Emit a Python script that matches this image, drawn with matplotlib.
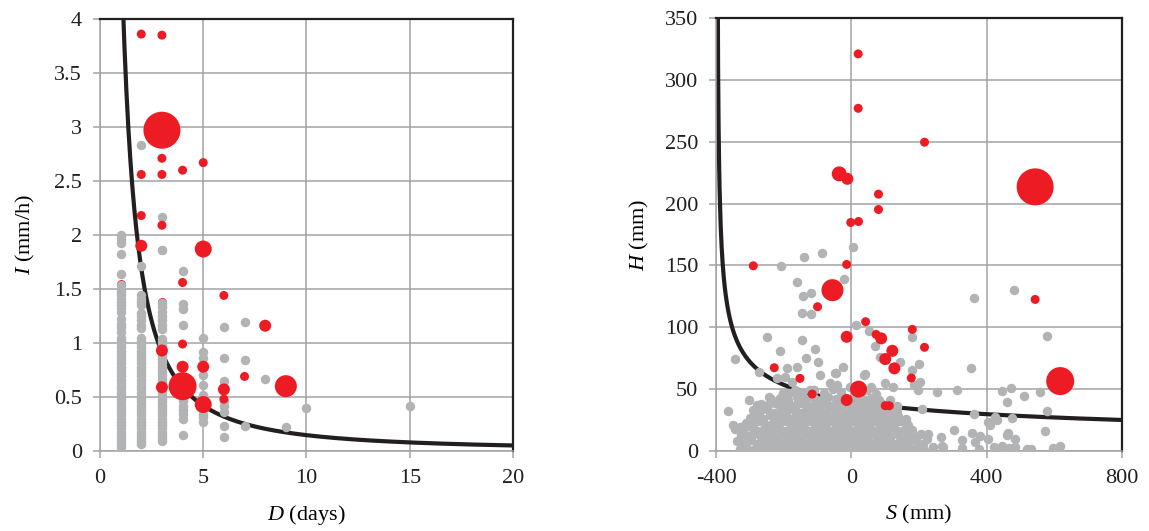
import matplotlib
matplotlib.use("Agg")
import numpy as np
import matplotlib.pyplot as plt
from matplotlib.ticker import FuncFormatter

plt.rcParams["font.family"] = ["Liberation Serif", "DejaVu Serif"]
plt.rcParams["mathtext.fontset"] = "custom"
plt.rcParams["mathtext.it"] = "Liberation Serif:italic"
plt.rcParams["mathtext.rm"] = "Liberation Serif"
plt.rcParams["axes.unicode_minus"] = False

# ---------------- left panel: duration D (days) vs intensity I (mm/h) ----------------
# gray events, grouped by duration
left_gray = {
    1: [2.00, 1.96, 1.93, 1.82, 1.64, 1.54, 1.50, 1.47, 1.44, 1.41, 1.38, 1.35, 1.32,
        1.29, 1.22, 1.18, 1.15, 1.10, 1.05, 1.02, 0.99, 0.96, 0.93, 0.90, 0.87, 0.84,
        0.81, 0.78, 0.75, 0.72, 0.69, 0.66, 0.63, 0.60, 0.57, 0.54, 0.51, 0.48, 0.45,
        0.42, 0.39, 0.36, 0.33, 0.30, 0.27, 0.24, 0.21, 0.18, 0.15, 0.12, 0.09, 0.06,
        0.04],
    2: [2.83, 1.71, 1.44, 1.41, 1.38, 1.35, 1.28, 1.25, 1.21, 1.17, 1.14, 1.05, 1.02,
        0.99, 0.96, 0.93, 0.90, 0.87, 0.84, 0.81, 0.78, 0.75, 0.72, 0.69, 0.66, 0.63,
        0.60, 0.57, 0.54, 0.51, 0.48, 0.45, 0.42, 0.39, 0.36, 0.33, 0.30, 0.27, 0.24,
        0.21, 0.18, 0.15, 0.12, 0.09, 0.06],
    3: [2.17, 1.86, 1.37, 1.33, 1.29, 1.25, 1.21, 1.17, 1.13, 1.04, 1.01, 0.98, 0.95,
        0.91, 0.88, 0.85, 0.82, 0.79, 0.76, 0.73, 0.70, 0.67, 0.64, 0.61, 0.57, 0.54,
        0.51, 0.48, 0.45, 0.42, 0.39, 0.36, 0.33, 0.30, 0.27, 0.24, 0.21, 0.18, 0.15,
        0.12, 0.09],
    4: [1.67, 1.36, 1.31, 1.17, 0.62, 0.55, 0.50, 0.46, 0.42, 0.38, 0.34, 0.30, 0.15],
    5: [1.05, 0.92, 0.86, 0.70, 0.61, 0.52, 0.48, 0.34, 0.31, 0.27],
    6: [1.15, 0.86, 0.65, 0.46, 0.42, 0.36, 0.23, 0.13],
    7: [1.19, 0.84, 0.23],
    8: [0.67],
    9: [0.22],
    10: [0.40],
    15: [0.42],
}

# red events (D, I, magnitude class 1..7)
left_red = [
    (2, 3.86, 1), (3, 3.85, 1), (3, 2.97, 7), (3, 2.71, 1), (5, 2.67, 1),
    (2, 2.56, 1), (3, 2.56, 1), (4, 2.60, 1), (2, 2.18, 1), (3, 2.09, 1),
    (2, 1.90, 2), (5, 1.87, 4), (4, 1.56, 1), (6, 1.44, 1), (8, 1.16, 2),
    (4, 0.99, 1), (3, 0.93, 2), (4, 0.78, 2), (5, 0.78, 2), (3, 0.59, 2),
    (4, 0.60, 6), (5, 0.43, 4), (6, 0.57, 2), (6, 0.48, 1), (7, 0.69, 1),
    (9, 0.60, 5),
]
# red events lying underneath gray ones
left_red_hidden = [(1, 1.55), (3, 1.86), (3, 1.38)]

# threshold curve I = a * D^-b
left_a, left_b = 4.85, 1.52

# ---------------- right panel: S (mm) vs H (mm) ----------------
right_gray_scattered = [
    (4, 164.5), (-86, 160.4), (-139, 156.4), (-209, 149.7), (-22, 139.4), (-160, 136.2),
    (-119, 127.9), (-142, 125.2), (-145, 111.7), (-120, 110.4), (481, 130), (361, 123.8),
    (13, 101.8), (52, 97.2), (-249, 92.3), (-145, 89.6), (70, 84.8), (180, 91.8),
    (577, 92.9), (-211, 81), (-107, 82.1), (85, 76.2), (-134, 74.8), (-99, 72.1),
    (-343, 74), (144, 72.1), (199, 70.3), (-191, 66.8), (-162, 68.1), (-26, 68.1),
    (353, 66.8), (180, 65.4), (-274, 63.8), (-48, 63.3), (-219, 58.7), (-196, 59.5),
    (38, 61.4), (-94, 61.4), (-45, 63), (40, 62.2), (203, 56), (186, 53.3), (98, 54.6),
    (124, 52), (-176, 56), (-63, 55.2), (-43, 53.3), (-201, 47.1), (-167, 49.3),
    (-122, 49.3), (58, 52), (198, 49.3), (252, 48), (311, 49.3), (446, 48.5),
    (472, 50.6), (511, 44.7), (556, 48), (459, 39.3), (577, 32.6), (474, 26.9),
    (361, 29.6), (208, 33.9), (423, 27.7), (405, 23.7), (302, 17), (571, 16.4),
    (464, 14.8), (459, 12.9), (356, 14.3), (380, 12.1), (326, 8.9), (405, 9.7),
    (484, 9.4), (265, 11), (272, 3.5), (226, 13.7), (223, 9.7), (326, 2.2), (378, 1.3),
    (420, 3.5), (444, 4), (466, 2.2), (484, 3), (518, 1.3), (530, 1.3), (597, 2.2),
    (617, 4), (-364, 32.6), (-349, 21), (-329, 19.7), (-304, 41.2), (-280, 37.2),
    (-245, 43.3), (21, 39.8), (53, 36.3), (114, 41.2), (134, 36.3), (149, 25),
    (366, 7.5), (410, 21), (430, 25), (267, 4),
]

right_gray_dense = [
    (-330, 2), (-312, 3), (-292, 1), (-272, 3), (-250, 2), (-230, 4), (-212, 2), (-192, 1),
    (-175, 3), (-158, 2), (-140, 4), (-122, 1), (-106, 3), (-90, 2), (-74, 4), (-58, 1),
    (-42, 3), (-26, 2), (-10, 4), (6, 1), (22, 3), (38, 2), (54, 4), (70, 1), (86, 3),
    (102, 2), (120, 4), (138, 1), (156, 3), (176, 2), (196, 4), (216, 1), (240, 3),
    (-338, 8), (-318, 7), (-298, 9), (-280, 6), (-260, 8), (-240, 7), (-220, 9), (-202, 6),
    (-184, 8), (-166, 7), (-148, 9), (-131, 6), (-114, 8), (-97, 7), (-81, 9), (-65, 6),
    (-49, 8), (-33, 7), (-17, 9), (-1, 6), (15, 8), (31, 7), (47, 9), (63, 6), (80, 8),
    (96, 7), (113, 9), (131, 6), (150, 8), (170, 7), (190, 9), (212, 6),
    (-325, 13), (-306, 12), (-287, 14), (-268, 11), (-248, 13), (-229, 12), (-210, 14),
    (-192, 11), (-174, 13), (-156, 12), (-139, 14), (-122, 11), (-105, 13), (-89, 12),
    (-73, 14), (-57, 11), (-41, 13), (-25, 12), (-9, 14), (7, 11), (23, 13), (39, 12),
    (55, 14), (72, 11), (89, 13), (106, 12), (124, 14), (143, 11), (163, 13), (184, 12),
    (205, 14),
    (-345, 18), (-320, 17), (-298, 19), (-278, 16), (-258, 18), (-238, 17), (-219, 19),
    (-200, 16), (-182, 18), (-164, 17), (-146, 19), (-129, 16), (-112, 18), (-96, 17),
    (-80, 19), (-64, 16), (-48, 18), (-32, 17), (-16, 19), (0, 16), (16, 18), (32, 17),
    (48, 19), (65, 16), (82, 18), (100, 17), (118, 19), (137, 16), (158, 18), (180, 17),
    (-312, 23), (-292, 22), (-272, 24), (-252, 21), (-232, 23), (-213, 22), (-194, 24),
    (-176, 21), (-158, 23), (-140, 22), (-123, 24), (-106, 21), (-90, 23), (-74, 22),
    (-58, 24), (-42, 21), (-26, 23), (-10, 22), (6, 24), (22, 21), (38, 23), (54, 22),
    (71, 24), (88, 21), (106, 23), (125, 22), (145, 24), (166, 21),
    (-300, 27), (-280, 28), (-260, 26), (-240, 29), (-220, 27), (-201, 28), (-182, 26),
    (-164, 29), (-146, 27), (-129, 28), (-112, 26), (-96, 29), (-80, 27), (-64, 28),
    (-48, 26), (-32, 29), (-16, 27), (0, 28), (16, 26), (32, 29), (48, 27), (65, 28),
    (82, 26), (100, 29), (119, 27), (139, 28), (160, 26),
    (-292, 33), (-270, 32), (-250, 34), (-230, 31), (-210, 33), (-190, 32), (-171, 34),
    (-153, 31), (-135, 33), (-118, 32), (-101, 34), (-85, 31), (-69, 33), (-53, 32),
    (-37, 34), (-21, 31), (-5, 33), (11, 32), (27, 34), (43, 31), (60, 33), (77, 32),
    (95, 34), (114, 31), (134, 33),
    (-268, 38), (-246, 37), (-225, 39), (-204, 36), (-184, 38), (-164, 37), (-145, 39),
    (-127, 36), (-109, 38), (-92, 37), (-75, 39), (-59, 36), (-43, 38), (-27, 37),
    (-11, 39), (5, 36), (21, 38), (37, 37), (54, 39), (72, 36), (91, 38), (110, 37),
    (-238, 42), (-212, 43), (-188, 41), (-160, 44), (-135, 42), (-112, 43), (-90, 41),
    (-68, 44), (-47, 42), (-27, 43), (-7, 41), (14, 44), (35, 42), (58, 43), (82, 41),
    (-185, 47), (-145, 48), (-110, 49), (-80, 47), (-55, 50), (-30, 48), (-5, 52),
    (22, 47), (45, 49), (74, 46),
]

# red events (S, H, magnitude class 1..7)
right_red = [
    (20, 321, 1), (20, 277, 1), (216, 249.6, 1), (-36, 224, 3), (-12, 220, 2),
    (543, 213.5, 7), (80, 207.6, 1), (80, 195.2, 1), (-2, 184.7, 1), (21, 185.5, 1),
    (-290, 149.7, 1), (-14, 150.8, 1), (-56, 130, 5), (-100, 116.6, 1), (42, 104.5, 1),
    (543, 122.5, 1), (-14, 92.3, 2), (73, 94.2, 1), (88, 91, 2), (180, 98.3, 1),
    (216, 83.8, 1), (121, 81, 2), (100, 74.3, 2), (127, 66.8, 2), (-228, 67.3, 1),
    (-152, 58.7, 1), (177, 59, 1), (617, 56.5, 6), (21, 50, 4), (-116, 46, 1),
    (-14, 41.2, 2), (100, 36.6, 1), (112, 36.6, 1),
]

# threshold curve H = a * (S + c)^-b
right_a, right_b, right_c = 492, 0.42, 397

# ---------------- drawing ----------------
GRAY = "#B2B3B5"
RED = "#ED1C24"
GRID = "#A3A3A3"
DPI = 100
diam_px = {1: 9, 2: 12, 3: 15, 4: 17, 5: 22, 6: 28, 7: 37}


def area(cls):
    return (diam_px[cls] * 72 / DPI) ** 2


GRAY_S = (9.5 * 72 / DPI) ** 2
FS = 16

fig = plt.figure(figsize=(11.49, 5.31), dpi=DPI)
ax1 = fig.add_axes([0.0870, 0.1507, 0.3595, 0.8136])
ax2 = fig.add_axes([0.6232, 0.1507, 0.3534, 0.8154])


def style(ax):
    ax.grid(True, color=GRID, lw=1.1)
    ax.set_axisbelow(True)
    for side in ("top", "right"):
        ax.spines[side].set_color("#231F20")
        ax.spines[side].set_linewidth(1.6)
    for side in ("left", "bottom"):
        ax.spines[side].set_color(GRID)
        ax.spines[side].set_linewidth(1.1)
    ax.tick_params(length=5, width=1.1, color=GRID, labelsize=FS, pad=8,
                   labelcolor="#231F20")


# left
style(ax1)
d = np.linspace(0.8, 20, 400)
ax1.plot(d, left_a * d ** (-left_b), color="#231F20", lw=3, zorder=2, solid_capstyle="butt")
ax1.scatter([p[0] for p in left_red_hidden], [p[1] for p in left_red_hidden],
            s=area(1), color=RED, lw=0, zorder=2.5)
gx = [k for k, v in left_gray.items() for _ in v]
gy = [i for v in left_gray.values() for i in v]
ax1.scatter(gx, gy, s=GRAY_S, color=GRAY, lw=0, zorder=3)
ax1.scatter([p[0] for p in left_red], [p[1] for p in left_red],
            s=[area(p[2]) for p in left_red], color=RED, lw=0, zorder=4)
ax1.set_xlim(0, 20)
ax1.set_ylim(0, 4)
ax1.set_xticks([0, 5, 10, 15, 20])
ax1.set_yticks(np.arange(0, 4.01, 0.5))
ax1.yaxis.set_major_formatter(FuncFormatter(lambda v, p: f"{v:g}"))
ax1.set_xlabel(r"$D$ (days)", fontsize=FS, labelpad=11)
ax1.set_ylabel(r"$I$ (mm/h)", fontsize=FS, labelpad=12)

# right
style(ax2)
s = np.linspace(-right_c + 1.5, 800, 800)
ax2.plot(s, right_a * (s + right_c) ** (-right_b), color="#231F20", lw=3, zorder=2)
pts = right_gray_dense + right_gray_scattered
ax2.scatter([p[0] for p in pts], [p[1] for p in pts], s=GRAY_S, color=GRAY, lw=0, zorder=3)
ax2.scatter([p[0] for p in right_red], [p[1] for p in right_red],
            s=[area(p[2]) for p in right_red], color=RED, lw=0, zorder=4)
ax2.set_xlim(-400, 800)
ax2.set_ylim(0, 350)
ax2.set_xticks([-400, 0, 400, 800])
ax2.set_yticks(range(0, 351, 50))
ax2.set_xlabel(r"$S$ (mm)", fontsize=FS, labelpad=11)
ax2.set_ylabel(r"$H$ (mm)", fontsize=FS, labelpad=10)

fig.savefig("out.png", dpi=DPI)
